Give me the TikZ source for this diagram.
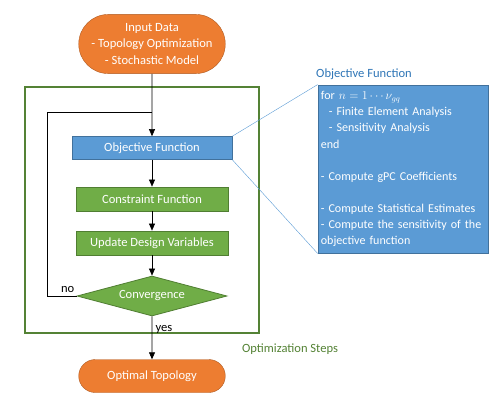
\documentclass[tikz,border=0pt]{standalone}
\usepackage{fontspec}
\setmainfont{Carlito}
\usepackage{amsmath}
\usetikzlibrary{arrows.meta, positioning, shapes.geometric, shapes.misc}

\definecolor{offorange}{HTML}{ED7D31}
\definecolor{offorangedk}{HTML}{AE5A21}
\definecolor{offblue}{HTML}{5B9BD5}
\definecolor{offbluedk}{HTML}{41719C}
\definecolor{offgreen}{HTML}{70AD47}
\definecolor{offgreendk}{HTML}{507E32}
\definecolor{stepgreen}{HTML}{548235}
\definecolor{titleblue}{HTML}{2E75B6}

\begin{document}
\begin{tikzpicture}[
  term/.style={rounded rectangle, draw=offorangedk, fill=offorange, text=white, minimum width=5.2cm, font=\fontsize{12.5}{16}\selectfont, align=center, inner sep=1pt},
  objbox/.style={rectangle, draw=offbluedk, thick, fill=offblue, text=white, minimum width=5.6cm, minimum height=0.8cm, font=\fontsize{12.5}{14}\selectfont},
  proc/.style={rectangle, draw=offgreendk, thick, fill=offgreen, text=white, minimum width=5.32cm, minimum height=0.84cm, font=\fontsize{12.5}{14}\selectfont},
  decide/.style={diamond, draw=offgreendk, thick, fill=offgreen, text=white, aspect=3.75, minimum width=5.25cm, minimum height=1.4cm, inner sep=0pt, font=\fontsize{12.5}{14}\selectfont},
  detail/.style={rectangle, draw=offbluedk, thick, fill=offblue, text=white, text width=5.75cm, inner xsep=0.1cm, minimum height=5.88cm, align=left, font=\fontsize{12}{16}\selectfont},
  lbl/.style={font=\fontsize{12.5}{14}\selectfont},
  flow/.style={-{Triangle[length=7pt, width=6pt]}, semithick},
  zoomline/.style={draw=offblue, thin}
]
  \useasboundingbox (0,0) rectangle (17.5,-14);

  % optimization loop frame
  \draw[stepgreen, line width=1.5pt] (0.875,-3.045) rectangle (9.065,-11.655);
  \node[lbl, text=stepgreen] (steps) at (10.15,-12.215) {Optimization Steps};

  \node[term, minimum height=2.07cm] (input) at (5.32,-1.54) {Input Data\\- Topology Optimization\\- Stochastic Model};
  \node[objbox] (obj) at (5.32,-5.18) {Objective Function};
  \node[proc] (cons) at (5.32,-6.965) {Constraint Function};
  \node[proc] (upd) at (5.32,-8.505) {Update Design Variables};
  \node[decide] (conv) at (5.32,-10.36) {Convergence};
  \node[term, minimum height=1.155cm] (opt) at (5.32,-13.16) {Optimal Topology};

  \coordinate (looptop) at (1.645,-3.92);

  \draw[flow] (input) -- (obj);
  \draw[flow] (obj) -- (cons);
  \draw[flow] (cons) -- (upd);
  \draw[flow] (upd) -- (conv);
  \draw[flow] (conv) -- node[lbl, right, pos=0.3]{yes} (opt);
  \draw[semithick] (conv.west) -- node[lbl, above, pos=0.3]{no} (conv.west -| looptop) -- (looptop) -- (looptop -| obj.north);

  % zoom of the objective function
  \node[lbl, text=titleblue] (dettitle) at (12.74,-2.59) {Objective Function};
  \node[detail] (det) at (14.105,-5.915) {for $n=1\cdots\nu_{gq}$\\
    \ \ - Finite Element Analysis\\
    \ \ - Sensitivity Analysis\\
    end\\[16pt]
    - Compute gPC Coefficients\\[16pt]
    - Compute Statistical Estimates\\
    - Compute the sensitivity of the objective function};
  \draw[zoomline] (obj.north east) -- (det.north west);
  \draw[zoomline] (obj.south east) -- (det.south west);
\end{tikzpicture}
\end{document}
